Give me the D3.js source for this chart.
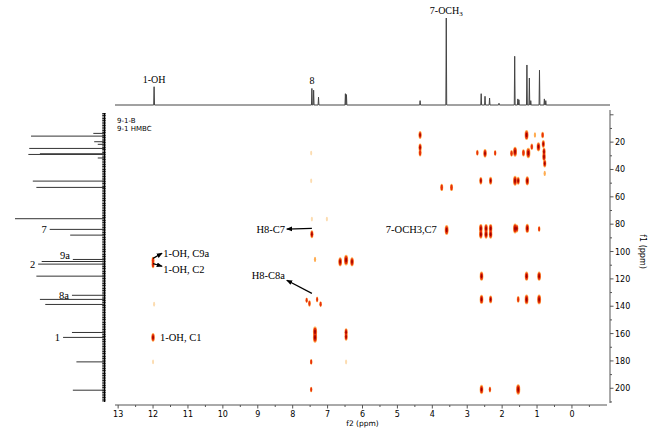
<!DOCTYPE html>
<html>
<head>
<meta charset="utf-8">
<script src="https://cdn.jsdelivr.net/npm/d3@7"></script>
<style>
  body { margin: 0; background: #fff; }
  text { fill: #000; }
</style>
</head>
<body>
<svg id="chart" width="649" height="428"></svg>
<script>
// 1H projection along f2 (ppm, relative height)
var h_ppm = [11.97, 7.45, 7.40, 7.26, 6.49, 6.46, 4.35, 3.60, 2.60, 2.49, 2.36, 2.09,
             1.64, 1.55, 1.52, 1.29, 1.22, 1.18, 0.93, 0.79, 0.75];
var h_int = [0.21, 0.19, 0.17, 0.09, 0.13, 0.12, 0.05, 1.00, 0.13, 0.10, 0.08, 0.02,
             0.56, 0.07, 0.06, 0.46, 0.31, 0.05, 0.40, 0.07, 0.05];

// 13C projection along f1 (ppm, relative height)
var c_ppm = [13.6, 15.6, 19.7, 21.6, 24.6, 28.5, 29.0, 31.6, 48.5, 53.1, 76.0, 83.8, 88.0,
             105.8, 107.3, 109.2, 118.0, 132.0, 135.0, 138.7, 159.2, 162.8, 180.7, 201.4];
var c_int = [0.12, 0.82, 0.11, 0.07, 0.84, 0.72, 0.85, 0.07, 0.80, 0.76, 1.00, 0.61, 0.38,
             0.35, 0.70, 0.74, 0.76, 0.36, 0.72, 0.66, 0.36, 0.46, 0.31, 0.35];

// HMBC cross peaks: f2 (1H), f1 (13C), intensity
var pk_f2 = [4.35, 4.35, 4.35, 3.73, 3.45, 2.71, 2.49, 2.20, 2.61, 2.33,
             1.73, 1.63, 1.39, 1.30, 1.25, 1.15, 1.06, 0.96, 0.84, 0.82,
             0.80, 0.80, 0.78, 0.78, 1.63, 1.54, 1.28, 7.47, 7.47,
             3.59, 2.61, 2.46, 2.33, 2.61, 2.46, 2.33, 1.63, 1.58, 1.28, 0.94,
             2.59, 1.30, 0.94, 2.59, 2.33, 1.54, 1.30, 0.94,
             7.60, 7.52, 7.30, 7.20, 7.36, 7.36, 6.47, 6.47, 7.47, 6.47,
             7.47, 2.59, 2.35, 1.54, 7.45, 7.02, 7.45, 7.36, 6.64, 6.47, 6.30,
             12.0, 12.0, 11.97, 12.0, 12.0];
var pk_f1 = [14.8, 23.9, 27.8, 53.1, 53.1, 27.8, 28.2, 28.0, 48.3, 48.3,
             28.2, 27.0, 27.8, 14.8, 28.0, 23.4, 14.8, 23.4, 14.8, 21.4,
             27.0, 30.7, 35.6, 42.9, 48.3, 48.3, 48.3, 28.0, 48.3,
             84.3, 83.1, 83.1, 83.1, 87.3, 87.3, 87.3, 83.1, 83.1, 83.1, 83.5,
             118, 118, 118, 135, 135, 135, 135, 135,
             135.6, 138.0, 135.0, 138.5, 158.7, 162.8, 159.0, 162.4, 180.7, 180.7,
             200.9, 200.9, 200.9, 200.9, 76.3, 76.3, 87.3, 105.8, 107.5, 106.3, 107.5,
             106.5, 109.5, 138.5, 162.8, 180.7];
var pk_int = [0.6, 0.6, 0.5, 0.5, 0.5, 0.3, 0.7, 0.3, 0.55, 0.6,
              0.4, 0.9, 0.5, 0.9, 1.0, 0.4, 0.2, 0.8, 0.4, 0.6,
              0.6, 0.7, 0.6, 0.2, 0.9, 0.6, 0.8, 0.12, 0.12,
              0.9, 0.75, 0.75, 0.75, 0.75, 0.75, 0.75, 0.9, 0.6, 0.8, 0.3,
              0.8, 0.8, 0.8, 0.8, 0.6, 0.4, 0.9, 0.9,
              0.25, 0.35, 0.25, 0.3, 1.0, 1.0, 0.6, 0.6, 0.3, 0.15,
              0.25, 0.8, 0.3, 1.0, 0.15, 0.15, 0.6, 0.2, 0.8, 1.0, 0.8,
              0.5, 0.5, 0.15, 0.7, 0.1];

var f2_ticks = [13, 12, 11, 10, 9, 8, 7, 6, 5, 4, 3, 2, 1, 0];
var f1_ticks = [20, 40, 60, 80, 100, 120, 140, 160, 180, 200];

var svg = d3.select('#chart');

var x = d3.scaleLinear().domain([13.09, -1.09]).range([115, 610]);
var y = d3.scaleLinear().domain([-3.5, 211.5]).range([110, 404]);
var yH = d3.scaleLinear().domain([0, 1]).range([105, 18]);   // top projection height
var xC = d3.scaleLinear().domain([0, 1]).range([104, 15]);   // left projection height

var serif = '"Liberation Serif", "Times New Roman", serif';
var sans = '"DejaVu Sans", Verdana, sans-serif';

// arrow head
svg.append('defs').append('marker')
    .attr('id', 'arrow')
    .attr('viewBox', '0 0 10 10')
    .attr('refX', 9).attr('refY', 5)
    .attr('markerWidth', 5).attr('markerHeight', 5)
    .attr('orient', 'auto')
  .append('path')
    .attr('d', 'M0,1 L10,5 L0,9 z')
    .attr('fill', '#000');

// ---- top 1H spectrum ----
var hPeaks = d3.zip(h_ppm, h_int).sort(function (a, b) { return b[0] - a[0]; });
var hPts = [[13.09, 0]];
hPeaks.forEach(function (p) {
    hPts.push([p[0] + 0.012, 0], [p[0], p[1]], [p[0] - 0.012, 0]);
});
hPts.push([-1.09, 0]);
svg.append('path')
    .attr('d', d3.line().x(function (d) { return x(d[0]); })
                        .y(function (d) { return yH(d[1]); })(hPts))
    .attr('fill', 'none')
    .attr('stroke', '#444')
    .attr('stroke-width', 1);

var topLabels = [
    { t: '1-OH', f2: 11.97, h: 0.21 },
    { t: '8', f2: 7.45, h: 0.19 },
    { t: '7-OCH', sub: '3', f2: 3.60, h: 1.0 }
];
topLabels.forEach(function (l) {
    var tx = svg.append('text')
        .attr('x', x(l.f2))
        .attr('y', yH(l.h) - 4)
        .attr('text-anchor', 'middle')
        .attr('font-family', serif)
        .attr('font-size', 10)
        .text(l.t);
    if (l.sub) {
        tx.append('tspan').attr('font-size', 7).attr('dy', 2).text(l.sub);
    }
});

// ---- left 13C spectrum ----
svg.append('line')
    .attr('x1', 104).attr('x2', 104)
    .attr('y1', 113).attr('y2', 402)
    .attr('stroke', '#222').attr('stroke-width', 3.5)
    .attr('stroke-dasharray', '1.2,0.5');
svg.append('line')
    .attr('x1', 104.5).attr('x2', 104.5)
    .attr('y1', 113).attr('y2', 402)
    .attr('stroke', '#000').attr('stroke-width', 1);

svg.selectAll('line.cpeak')
    .data(d3.zip(c_ppm, c_int))
  .enter().append('line')
    .attr('class', 'cpeak')
    .attr('x1', 104)
    .attr('x2', function (d) { return xC(d[1]); })
    .attr('y1', function (d) { return y(d[0]); })
    .attr('y2', function (d) { return y(d[0]); })
    .attr('stroke', '#333')
    .attr('stroke-width', 1);

var leftLabels = [
    { t: '7', f1: 83.8, h: 0.61, dy: 3.5 },
    { t: '9a', f1: 105.8, h: 0.35, dy: -0.5 },
    { t: '2', f1: 109.2, h: 0.74, dy: 3.5 },
    { t: '8a', f1: 132.0, h: 0.36, dy: 3.5 },
    { t: '1', f1: 162.8, h: 0.46, dy: 3.5 }
];
svg.selectAll('text.clab')
    .data(leftLabels)
  .enter().append('text')
    .attr('class', 'clab')
    .attr('x', function (d) { return xC(d.h) - 3; })
    .attr('y', function (d) { return y(d.f1) + d.dy; })
    .attr('text-anchor', 'end')
    .attr('font-family', serif)
    .attr('font-size', 10.5)
    .text(function (d) { return d.t; });

// ---- axes ----
var xAxis = svg.append('g').attr('transform', 'translate(0,405)');
xAxis.append('line').attr('x1', 115).attr('x2', 607)
    .attr('stroke', '#555').attr('stroke-width', 1);
xAxis.selectAll('line.minor')
    .data(d3.range(13, -1, -0.5))
  .enter().append('line')
    .attr('x1', function (d) { return x(d); })
    .attr('x2', function (d) { return x(d); })
    .attr('y1', 0)
    .attr('y2', function (d) { return d % 1 === 0 ? 3.5 : 2; })
    .attr('stroke', '#555');
xAxis.selectAll('text')
    .data(f2_ticks)
  .enter().append('text')
    .attr('x', function (d) { return x(d); })
    .attr('y', 11.5)
    .attr('text-anchor', 'middle')
    .attr('font-family', sans)
    .attr('font-size', 8)
    .attr('fill', '#333')
    .text(function (d) { return d; });
svg.append('text')
    .attr('x', x(6)).attr('y', 426)
    .attr('text-anchor', 'middle')
    .attr('font-family', sans).attr('font-size', 7.5).attr('fill', '#333')
    .text('f2 (ppm)');

var yAxis = svg.append('g').attr('transform', 'translate(610,0)');
yAxis.append('line').attr('y1', 110).attr('y2', 403)
    .attr('stroke', '#555').attr('stroke-width', 1);
yAxis.selectAll('line.minor')
    .data(d3.range(0, 211, 10))
  .enter().append('line')
    .attr('y1', function (d) { return y(d); })
    .attr('y2', function (d) { return y(d); })
    .attr('x1', 0)
    .attr('x2', function (d) { return d % 20 === 0 ? 3.5 : 2; })
    .attr('stroke', '#555');
yAxis.selectAll('text')
    .data(f1_ticks)
  .enter().append('text')
    .attr('x', 5)
    .attr('y', function (d) { return y(d) + 3; })
    .attr('font-family', sans)
    .attr('font-size', 8)
    .attr('fill', '#333')
    .text(function (d) { return d; });
svg.append('text')
    .attr('transform', 'translate(640,' + y(100) + ') rotate(90)')
    .attr('text-anchor', 'middle')
    .attr('font-family', sans).attr('font-size', 8).attr('fill', '#333')
    .text('f1 (ppm)');

// title lines
svg.append('text').attr('x', 117).attr('y', 123)
    .attr('font-family', sans).attr('font-size', 7).attr('fill', '#222').text('9-1-B');
svg.append('text').attr('x', 117).attr('y', 131)
    .attr('font-family', sans).attr('font-size', 7).attr('fill', '#222').text('9-1 HMBC');

// ---- cross peaks ----
var peaks = d3.zip(pk_f2, pk_f1, pk_int);
var layers = [
    { k: 1.0, min: 0, color: function (d) { return d[2] < 0.2 ? '#fcdcb0' : '#ffac50'; } },
    { k: 0.78, min: 0.25, color: function () { return '#e8300a'; } },
    { k: 0.45, min: 0.55, color: function () { return '#a00000'; } }
];
layers.forEach(function (L, li) {
    svg.selectAll('ellipse.l' + li)
        .data(peaks.filter(function (d) { return d[2] >= L.min; }))
      .enter().append('ellipse')
        .attr('class', 'l' + li)
        .attr('cx', function (d) { return x(d[0]); })
        .attr('cy', function (d) { return y(d[1]); })
        .attr('rx', function (d) { return (0.9 + 1.2 * d[2]) * L.k; })
        .attr('ry', function (d) { return (2 + 3.3 * d[2]) * L.k; })
        .attr('fill', L.color);
});

// ---- annotations ----
var notes = [
    { t: 'H8-C7', f2: 8.22, f1: 83.6, anchor: 'end', from: [7.45, 83.1], to: [8.17, 83.6] },
    { t: 'H8-C8a', f2: 8.22, f1: 117.6, anchor: 'end', from: [7.45, 130.6], to: [8.17, 121.0] },
    { t: '7-OCH3,C7', f2: 3.87, f1: 83.8, anchor: 'end' },
    { t: '1-OH, C9a', f2: 11.71, f1: 101.4, anchor: 'start', from: [12.0, 105.0], to: [11.74, 101.2] },
    { t: '1-OH, C2', f2: 11.71, f1: 113.1, anchor: 'start', from: [12.0, 108.8], to: [11.74, 110.8] },
    { t: '1-OH, C1', f2: 11.80, f1: 162.8, anchor: 'start' }
];
notes.forEach(function (n) {
    svg.append('text')
        .attr('x', x(n.f2))
        .attr('y', y(n.f1) + 3.5)
        .attr('text-anchor', n.anchor)
        .attr('font-family', serif)
        .attr('font-size', 10.5)
        .text(n.t);
    if (n.from) {
        svg.append('line')
            .attr('x1', x(n.from[0])).attr('y1', y(n.from[1]))
            .attr('x2', x(n.to[0])).attr('y2', y(n.to[1]))
            .attr('stroke', '#000').attr('stroke-width', 1.2)
            .attr('marker-end', 'url(#arrow)');
    }
});
</script>
</body>
</html>
